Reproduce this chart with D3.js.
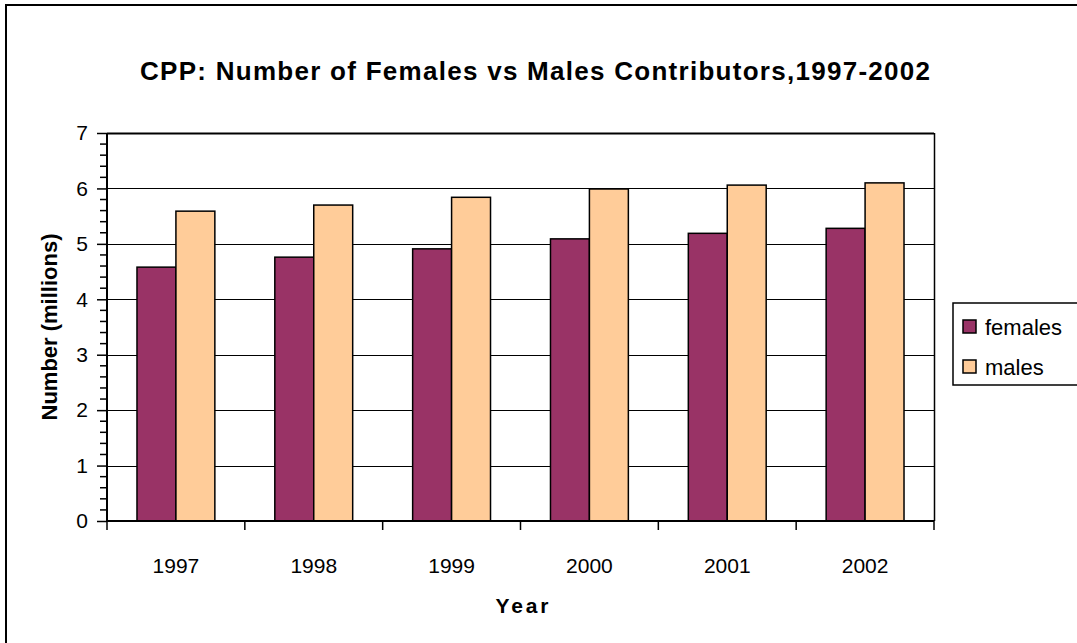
<!DOCTYPE html>
<html>
<head>
<meta charset="utf-8">
<script src="https://cdn.jsdelivr.net/npm/d3@7"></script>
<style>
  body { margin: 0; background: #fff; }
  svg { display: block; font-family: "Liberation Sans", Arial, sans-serif; }
</style>
</head>
<body>
<svg id="chart" width="1077" height="643"></svg>
<script>
// data
var years = ["1997", "1998", "1999", "2000", "2001", "2002"];
var females = [4.58, 4.76, 4.91, 5.09, 5.19, 5.28];
var males = [5.59, 5.70, 5.84, 5.99, 6.06, 6.10];
var seriesNames = ["females", "males"];
var seriesColors = ["#993366", "#FFCC99"];
var yTicks = [0, 1, 2, 3, 4, 5, 6, 7];

var svg = d3.select("#chart");

var plotLeft = 107, plotRight = 934, plotTop = 133, plotBottom = 521;

// outer chart frame (runs off the right and bottom edge)
svg.append("rect")
    .attr("x", 6).attr("y", 5)
    .attr("width", 1090).attr("height", 660)
    .attr("fill", "#fff")
    .attr("stroke", "#000")
    .attr("stroke-width", 2);

var y = d3.scaleLinear().domain([0, 7]).range([plotBottom, plotTop]);
var x0 = d3.scaleBand().domain(years).range([plotLeft, plotRight]);
var x1 = d3.scaleBand().domain(seriesNames).range([0, x0.bandwidth()]).paddingOuter(0.77);

// gridlines (the top one doubles as the plot border)
svg.append("g")
    .selectAll("line")
    .data(yTicks.slice(1))
    .join("line")
    .attr("x1", plotLeft).attr("x2", plotRight)
    .attr("y1", d => Math.round(y(d)) + 0.5).attr("y2", d => Math.round(y(d)) + 0.5)
    .attr("stroke", "#000")
    .attr("stroke-width", d => d === 7 ? 2 : 1.2);

// right border of plot
svg.append("line")
    .attr("x1", plotRight + 0.5).attr("x2", plotRight + 0.5)
    .attr("y1", plotTop).attr("y2", plotBottom)
    .attr("stroke", "#000").attr("stroke-width", 1.5);

// bars
var rows = years.map((yr, i) => ({ year: yr, values: [females[i], males[i]] }));
svg.append("g")
    .selectAll("g")
    .data(rows)
    .join("g")
    .attr("transform", d => "translate(" + x0(d.year) + ",0)")
    .selectAll("rect")
    .data(d => d.values.map((v, j) => ({ key: seriesNames[j], value: v, color: seriesColors[j] })))
    .join("rect")
    .attr("x", d => x1(d.key))
    .attr("y", d => y(d.value))
    .attr("width", x1.bandwidth())
    .attr("height", d => plotBottom - y(d.value))
    .attr("fill", d => d.color)
    .attr("stroke", "#000")
    .attr("stroke-width", 1.5);

// y axis with minor ticks
var yAxis = d3.axisLeft(y).tickValues(yTicks).tickSize(10).tickPadding(9).tickFormat(d3.format("d"));
var gy = svg.append("g").attr("transform", "translate(" + plotLeft + ",0)").call(yAxis);
gy.select(".domain").attr("stroke-width", 2).attr("d", "M0," + plotTop + "V" + plotBottom);
gy.selectAll(".tick line").attr("stroke-width", 1.5);
gy.selectAll(".tick text").attr("font-size", 21).attr("fill", "#000")
    .attr("font-family", "'Liberation Sans', Arial, sans-serif");
var minor = d3.range(0, 7.001, 0.2).filter(v => Math.abs(v - Math.round(v)) > 0.01);
gy.append("g").selectAll("line")
    .data(minor)
    .join("line")
    .attr("x1", -7).attr("x2", 0)
    .attr("y1", d => y(d)).attr("y2", d => y(d))
    .attr("stroke", "#000").attr("stroke-width", 1.5);

// x axis: ticks between categories
var gx = svg.append("g").attr("transform", "translate(0," + plotBottom + ")");
gx.append("line").attr("x1", plotLeft).attr("x2", plotRight).attr("stroke", "#000").attr("stroke-width", 2);
gx.selectAll(".xt")
    .data(years.concat(["end"]))
    .join("line")
    .attr("class", "xt")
    .attr("x1", d => d === "end" ? plotRight : x0(d))
    .attr("x2", d => d === "end" ? plotRight : x0(d))
    .attr("y1", 0).attr("y2", 9)
    .attr("stroke", "#000").attr("stroke-width", 1.5);
gx.selectAll(".xl")
    .data(years)
    .join("text")
    .attr("class", "xl")
    .attr("x", d => x0(d) + x0.bandwidth() / 2)
    .attr("y", 52)
    .attr("text-anchor", "middle")
    .attr("font-size", 21)
    .text(d => d);

// titles
svg.append("text")
    .attr("x", 535).attr("y", 80)
    .attr("text-anchor", "middle")
    .attr("font-size", 26).attr("font-weight", "bold")
    .attr("textLength", 790).attr("lengthAdjust", "spacing")
    .text("CPP: Number of Females vs Males Contributors,1997-2002");

svg.append("text")
    .attr("x", 522).attr("y", 613)
    .attr("text-anchor", "middle")
    .attr("font-size", 21).attr("font-weight", "bold")
    .attr("textLength", 53).attr("lengthAdjust", "spacing")
    .text("Year");

svg.append("text")
    .attr("transform", "translate(57," + (plotTop + plotBottom) / 2 + ") rotate(-90)")
    .attr("text-anchor", "middle")
    .attr("font-size", 22).attr("font-weight", "bold")
    .text("Number (millions)");

// legend
var legend = svg.append("g");
legend.append("rect")
    .attr("x", 953).attr("y", 303)
    .attr("width", 140).attr("height", 82)
    .attr("fill", "#fff").attr("stroke", "#000").attr("stroke-width", 1.5);
var li = legend.selectAll(".li")
    .data(seriesNames)
    .join("g")
    .attr("class", "li")
    .attr("transform", (d, i) => "translate(963," + (320 + i * 40) + ")");
li.append("rect")
    .attr("width", 13).attr("height", 13)
    .attr("fill", (d, i) => seriesColors[i])
    .attr("stroke", "#000").attr("stroke-width", 1.5);
li.append("text")
    .attr("x", 22).attr("y", 15)
    .attr("font-size", 22)
    .text(d => d);
</script>
</body>
</html>
